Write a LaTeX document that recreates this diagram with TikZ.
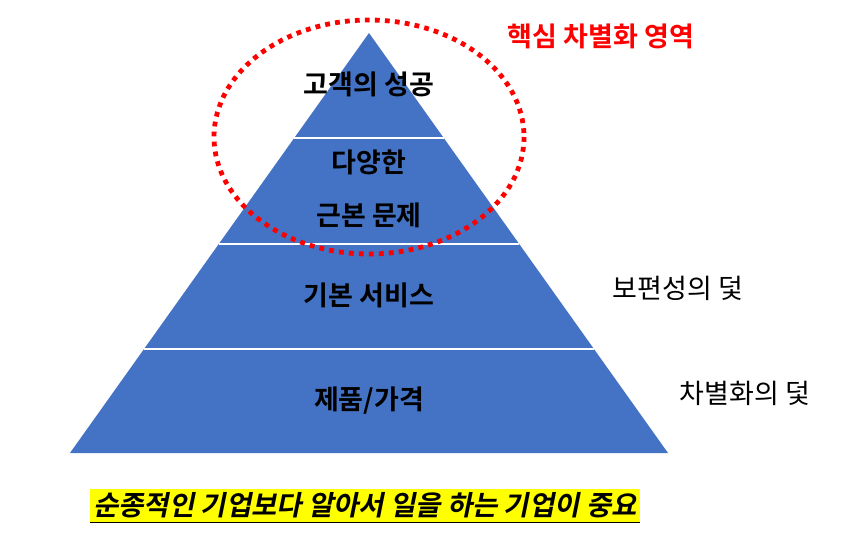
\documentclass[tikz,border=0pt]{standalone}
\usepackage{fontspec}
\setmainfont{Noto Sans CJK KR}
\newfontfamily\kr{Noto Sans CJK KR}
\newfontfamily\krb{Noto Sans CJK KR Bold}
\newfontfamily\krbi[FakeSlant=0.2]{Noto Sans CJK KR Bold}
\definecolor{pyrblue}{RGB}{68,114,196}
\definecolor{hlred}{RGB}{255,0,0}
\definecolor{hlyellow}{RGB}{255,255,0}
\begin{document}
\begin{tikzpicture}[x=1pt,y=-1pt,
  layertext/.style={font=\krb\fontsize{27}{30}\selectfont, text=black, inner sep=0pt},
  sidetext/.style={font=\kr\fontsize{27}{30}\selectfont, text=black, inner sep=0pt},
  divider/.style={draw=white, line width=1.2pt}]
\useasboundingbox (0,0) rectangle (863,535);
\fill[white] (0,0) rectangle (863,535);
% pyramid
\coordinate (apex) at (369,33);
\coordinate (bl) at (70,453);
\coordinate (br) at (668,453);
\fill[pyrblue] (apex) -- (br) -- (bl) -- cycle;
% dividers
\draw[divider] (294.25,138) -- (443.75,138);
\draw[divider] (218.8,244) -- (519.2,244);
\draw[divider] (144.0,349) -- (594.0,349);
% layer texts
\node[layertext] (t1) at (369,84) {고객의 성공};
\node[layertext] (t2a) at (369,162) {다양한};
\node[layertext] (t2b) at (369,215) {근본 문제};
\node[layertext] (t3) at (369,295) {기본 서비스};
\node[layertext] (t4) at (369,401) {제품/가격};
% ellipse
\draw[hlred, line width=4.8pt, dash pattern=on 4.8pt off 5.2pt] (369,137) ellipse [x radius=155, y radius=117];
\node[font=\krb\fontsize{27}{30}\selectfont, text=hlred, inner sep=0pt] (core) at (601,36) {핵심 차별화 영역};
\node[sidetext] (trap1) at (678,288) {보편성의 덫};
\node[sidetext] (trap2) at (745,393) {차별화의 덫};
% bottom highlighted text
\node[fill=hlyellow, font=\krbi\fontsize{27.5}{30}\selectfont, inner xsep=3pt, inner ysep=0pt, minimum height=33pt] (msg) at (365,505) {순종적인 기업보다 알아서 일을 하는 기업이 중요};
\draw[black, line width=1.3pt] ([yshift=-1pt]msg.south west) -- ([yshift=-1pt]msg.south east);
\end{tikzpicture}
\end{document}
